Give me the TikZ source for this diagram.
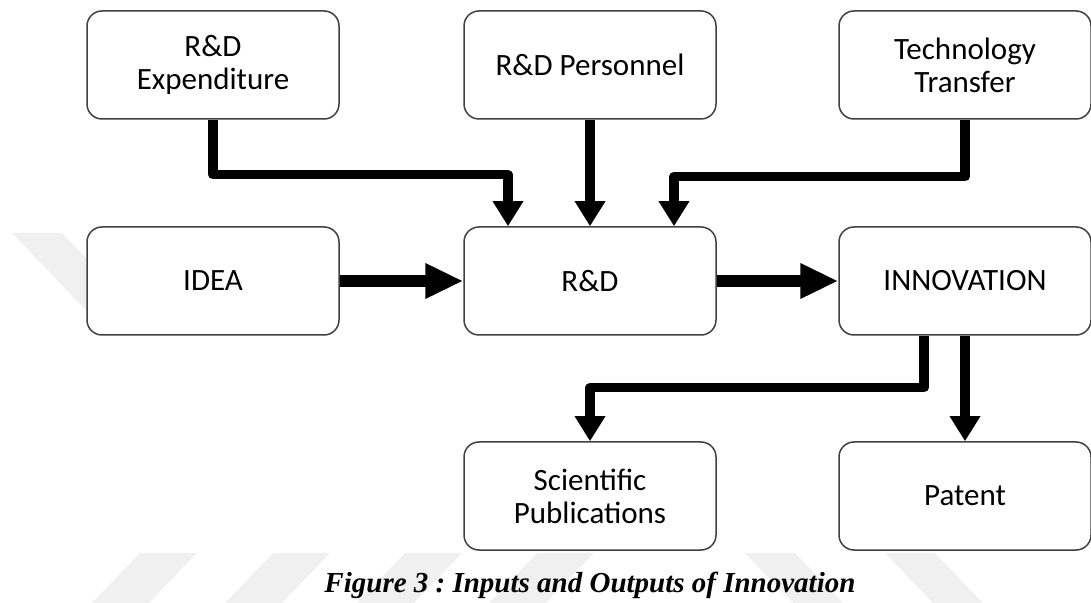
\documentclass[tikz,border=0pt]{standalone}
\usepackage{fontspec}
\newfontfamily\boxfont{Carlito}
\newfontfamily\capfont{Liberation Serif}
\usetikzlibrary{arrows.meta}
\frenchspacing

\begin{document}
\begin{tikzpicture}[x=0.5pt,y=-0.5pt,
	box/.style={draw=black!75,line width=0.75pt,fill=white,rounded corners=7.5pt,
		minimum width=126pt,minimum height=54pt,align=center,inner sep=0pt,
		font=\boxfont\fontsize{15.5}{16.5}\selectfont},
	flow/.style={line width=4.75pt,line join=round,-{Triangle[length=12.5pt,width=14.5pt]}},
	bigflow/.style={line width=6pt,-{Triangle[length=19pt,width=16.5pt]}},
	wm/.style={fill=black!6}]
	\useasboundingbox (0,0) rectangle (1091,603);

	% watermark
	\fill[wm] (12,233) -- (62,233) -- (150,325) -- (100,325) -- cycle;
	\foreach \x in {140,273,405,537}
		\fill[wm] (\x,553) -- (\x+57,553) -- (\x+9,603) -- (\x-48,603) -- cycle;
	\foreach \x in {745,885}
		\fill[wm] (\x,553) -- (\x+50,553) -- (\x+98,603) -- (\x+48,603) -- cycle;

	\node[box] (exp) at (213,65) {R\&D\\Expenditure};
	\node[box] (pers) at (590,65) {R\&D Personnel};
	\node[box] (tech) at (965,65) {Technology\\Transfer};
	\node[box] (idea) at (213,281) {IDEA};
	\node[box] (rd) at (590,281) {R\&D};
	\node[box] (innov) at (965,281) {INNOVATION};
	\node[box] (sci) at (590,496) {Scientific\\Publications};
	\node[box] (pat) at (965,496) {Patent};

	\coordinate (rdinA) at ([shift={(-82,0)}]rd.north);
	\coordinate (rdinC) at ([shift={(84,0)}]rd.north);
	\coordinate (innovout) at ([shift={(-41,0)}]innov.south);

	\draw[flow] (exp.south) -- ++(0,55) -| (rdinA);
	\draw[flow] (pers.south) -- (rd.north);
	\draw[flow] (tech.south) -- ++(0,57) -| (rdinC);
	\draw[bigflow] (idea.east) -- (rd.west);
	\draw[bigflow] (rd.east) -- (innov.west);
	\draw[flow] (innovout) -- ++(0,52) -| (sci.north);
	\draw[flow] (innov.south) -- (pat.north);

	\node[font=\capfont\bfseries\itshape\fontsize{14.5}{17}\selectfont,anchor=base] (cap) at (590,592)
		{Figure 3 : Inputs and Outputs of Innovation};
\end{tikzpicture}
\end{document}
